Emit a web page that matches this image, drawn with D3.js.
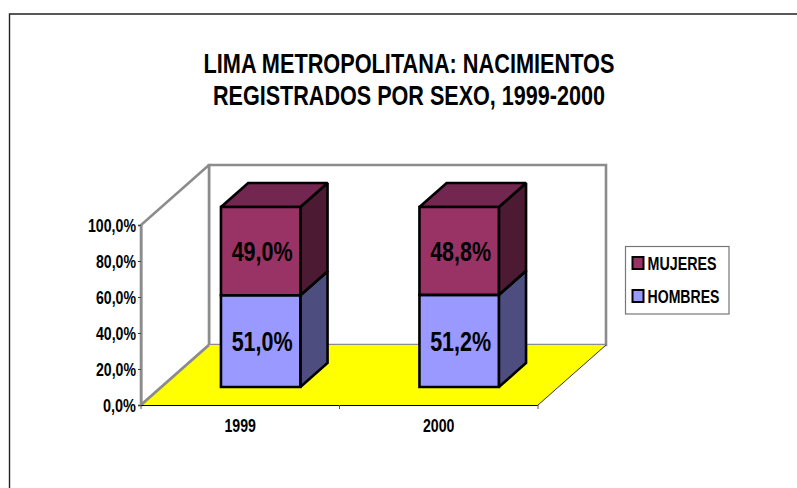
<!DOCTYPE html>
<html><head><meta charset="utf-8">
<script src="https://cdnjs.cloudflare.com/ajax/libs/d3/7.8.5/d3.min.js"></script>
<style>html,body{margin:0;padding:0;background:#fff}svg{display:block}
text{font-family:"Liberation Sans",Arial,sans-serif;font-weight:bold;fill:#000}</style>
</head><body><svg id="c" width="797" height="488"></svg>
<script>
const categories = ["1999","2000"];
const hombres = [51.0,51.2];
const mujeres = [49.0,48.8];
const yTicks = [0,20,40,60,80,100];
const titleLines = ["LIMA METROPOLITANA: NACIMIENTOS","REGISTRADOS POR SEXO, 1999-2000"];
const seriesNames = ["MUJERES","HOMBRES"];
const svg = d3.select("#c");
const fmt = v => v.toFixed(1).replace(".",",")+"%";

const x = d3.scaleBand().domain(categories).range([141,538]);
const y = d3.scaleLinear().domain([0,100]).range([405,225]);
const DX=68, DY=-60;
const pt=(px,val,z)=>[px+z*DX, y(val)+z*DY];
const poly=(pts,fill,stroke,sw)=>svg.append("polygon").attr("points",pts.map(p=>p.join(",")).join(" "))
  .attr("fill",fill).attr("stroke",stroke).attr("stroke-width",sw).attr("stroke-linejoin","miter").attr("stroke-miterlimit",1.6);

// frame
svg.append("path").attr("d","M9.5,488V14H797").attr("fill","none").attr("stroke","#222").attr("stroke-width",1.4);

// title
titleLines.forEach((t,i)=>svg.append("text").attr("x",409).attr("y",[72.5,105][i]).attr("text-anchor","middle")
  .attr("font-size",28).attr("textLength",[411,392][i]).attr("lengthAdjust","spacingAndGlyphs").text(t));

const [xa,xb]=x.range();
// walls and floor
poly([pt(xa,0,1),pt(xb,0,1),pt(xb,100,1),pt(xa,100,1)],"#fff","#8c8c8c",2.6);
poly([pt(xa,0,0),pt(xa,0,1),pt(xa,100,1),pt(xa,100,0)],"#fff","#8c8c8c",2.6);
poly([pt(xa,0,0),pt(xb,0,0),pt(xb,0,1),pt(xa,0,1)],"#ffff00","none",0);
svg.append("line").attr("x1",pt(xa,0,1)[0]).attr("y1",pt(xa,0,1)[1]).attr("x2",pt(xa,0,0)[0]).attr("y2",pt(xa,0,0)[1]).attr("stroke","#8c8c8c").attr("stroke-width",2.6);
svg.append("line").attr("x1",pt(xb,0,0)[0]).attr("y1",pt(xb,0,0)[1]).attr("x2",pt(xb,0,1)[0]).attr("y2",pt(xb,0,1)[1]).attr("stroke","#333").attr("stroke-width",1);

// axes
const ay=svg.append("g").attr("transform",`translate(${xa},0)`).call(d3.axisLeft(y).tickValues(yTicks).tickSize(3).tickFormat(v=>fmt(v)));
ay.select(".domain").attr("stroke","#8c8c8c").attr("stroke-width",2);
ay.selectAll("line").attr("stroke","#444");
ay.selectAll("text").attr("font-size",18.5).attr("x",-5).attr("y",6).attr("dy",0).attr("fill","#000").attr("font-family",null)
  .attr("textLength",d=>d===100?48:(d===0?33:40)).attr("lengthAdjust","spacingAndGlyphs");
const ax=svg.append("g").attr("transform",`translate(0,${y(0)})`).call(d3.axisBottom(x).tickSize(0).tickFormat(()=>""));
ax.select(".domain").remove();
svg.append("line").attr("x1",xa).attr("x2",xb).attr("y1",y(0)+.5).attr("y2",y(0)+.5).attr("stroke","#000").attr("stroke-width",1);
[xa,xa+x.step(),xb].forEach(v=>svg.append("line").attr("x1",v).attr("x2",v).attr("y1",y(0)).attr("y2",y(0)+4).attr("stroke","#555"));
categories.forEach(c=>svg.append("text").attr("x",x(c)+x.bandwidth()/2).attr("y",432).attr("text-anchor","middle").attr("font-size",17.5)
  .attr("textLength",31.5).attr("lengthAdjust","spacingAndGlyphs").text(c));

// bars
const sw=2.6, z0=0.3, z1=0.7, frac=0.4;
const colors={m:["#993366","#732650","#4d1a33"],h:["#9999ff","#7373bf","#4d4d80"]};
function seg(c,lo,hi,col,label){
  const L=x(c)+x.bandwidth()*(0.5-frac/2), R=x(c)+x.bandwidth()*(0.5+frac/2);
  poly([pt(R,lo,z0),pt(R,lo,z1),pt(R,hi,z1),pt(R,hi,z0)],col[2],"#000",sw);
  poly([pt(L,hi,z0),pt(R,hi,z0),pt(R,hi,z1),pt(L,hi,z1)],col[1],"#000",sw);
  poly([pt(L,lo,z0),pt(R,lo,z0),pt(R,hi,z0),pt(L,hi,z0)],col[0],"#000",sw);
  const [cx,cy]=pt((L+R)/2,(lo+hi)/2,z0);
  svg.append("text").attr("x",cx+1.5).attr("y",cy+10).attr("text-anchor","middle").attr("font-size",28)
    .attr("textLength",61).attr("lengthAdjust","spacingAndGlyphs").text(label);
}
categories.forEach((c,i)=>{
  seg(c,0,hombres[i],colors.h,fmt(hombres[i]));
  seg(c,hombres[i],hombres[i]+mujeres[i],colors.m,fmt(mujeres[i]));
});

// legend
svg.append("rect").attr("x",625.5).attr("y",246.5).attr("width",103.5).attr("height",67.5).attr("fill","#fff").attr("stroke","#777").attr("stroke-width",1.2);
seriesNames.forEach((n,i)=>{
  const yy=[257,290][i];
  svg.append("rect").attr("x",632.5).attr("y",yy).attr("width",11).attr("height",12).attr("fill",i?colors.h[0]:colors.m[0]).attr("stroke","#000").attr("stroke-width",2);
  svg.append("text").attr("x",647.5).attr("y",[270,302.5][i]).attr("font-size",18).attr("textLength",[69,72][i]).attr("lengthAdjust","spacingAndGlyphs").text(n);
});
</script></body></html>
